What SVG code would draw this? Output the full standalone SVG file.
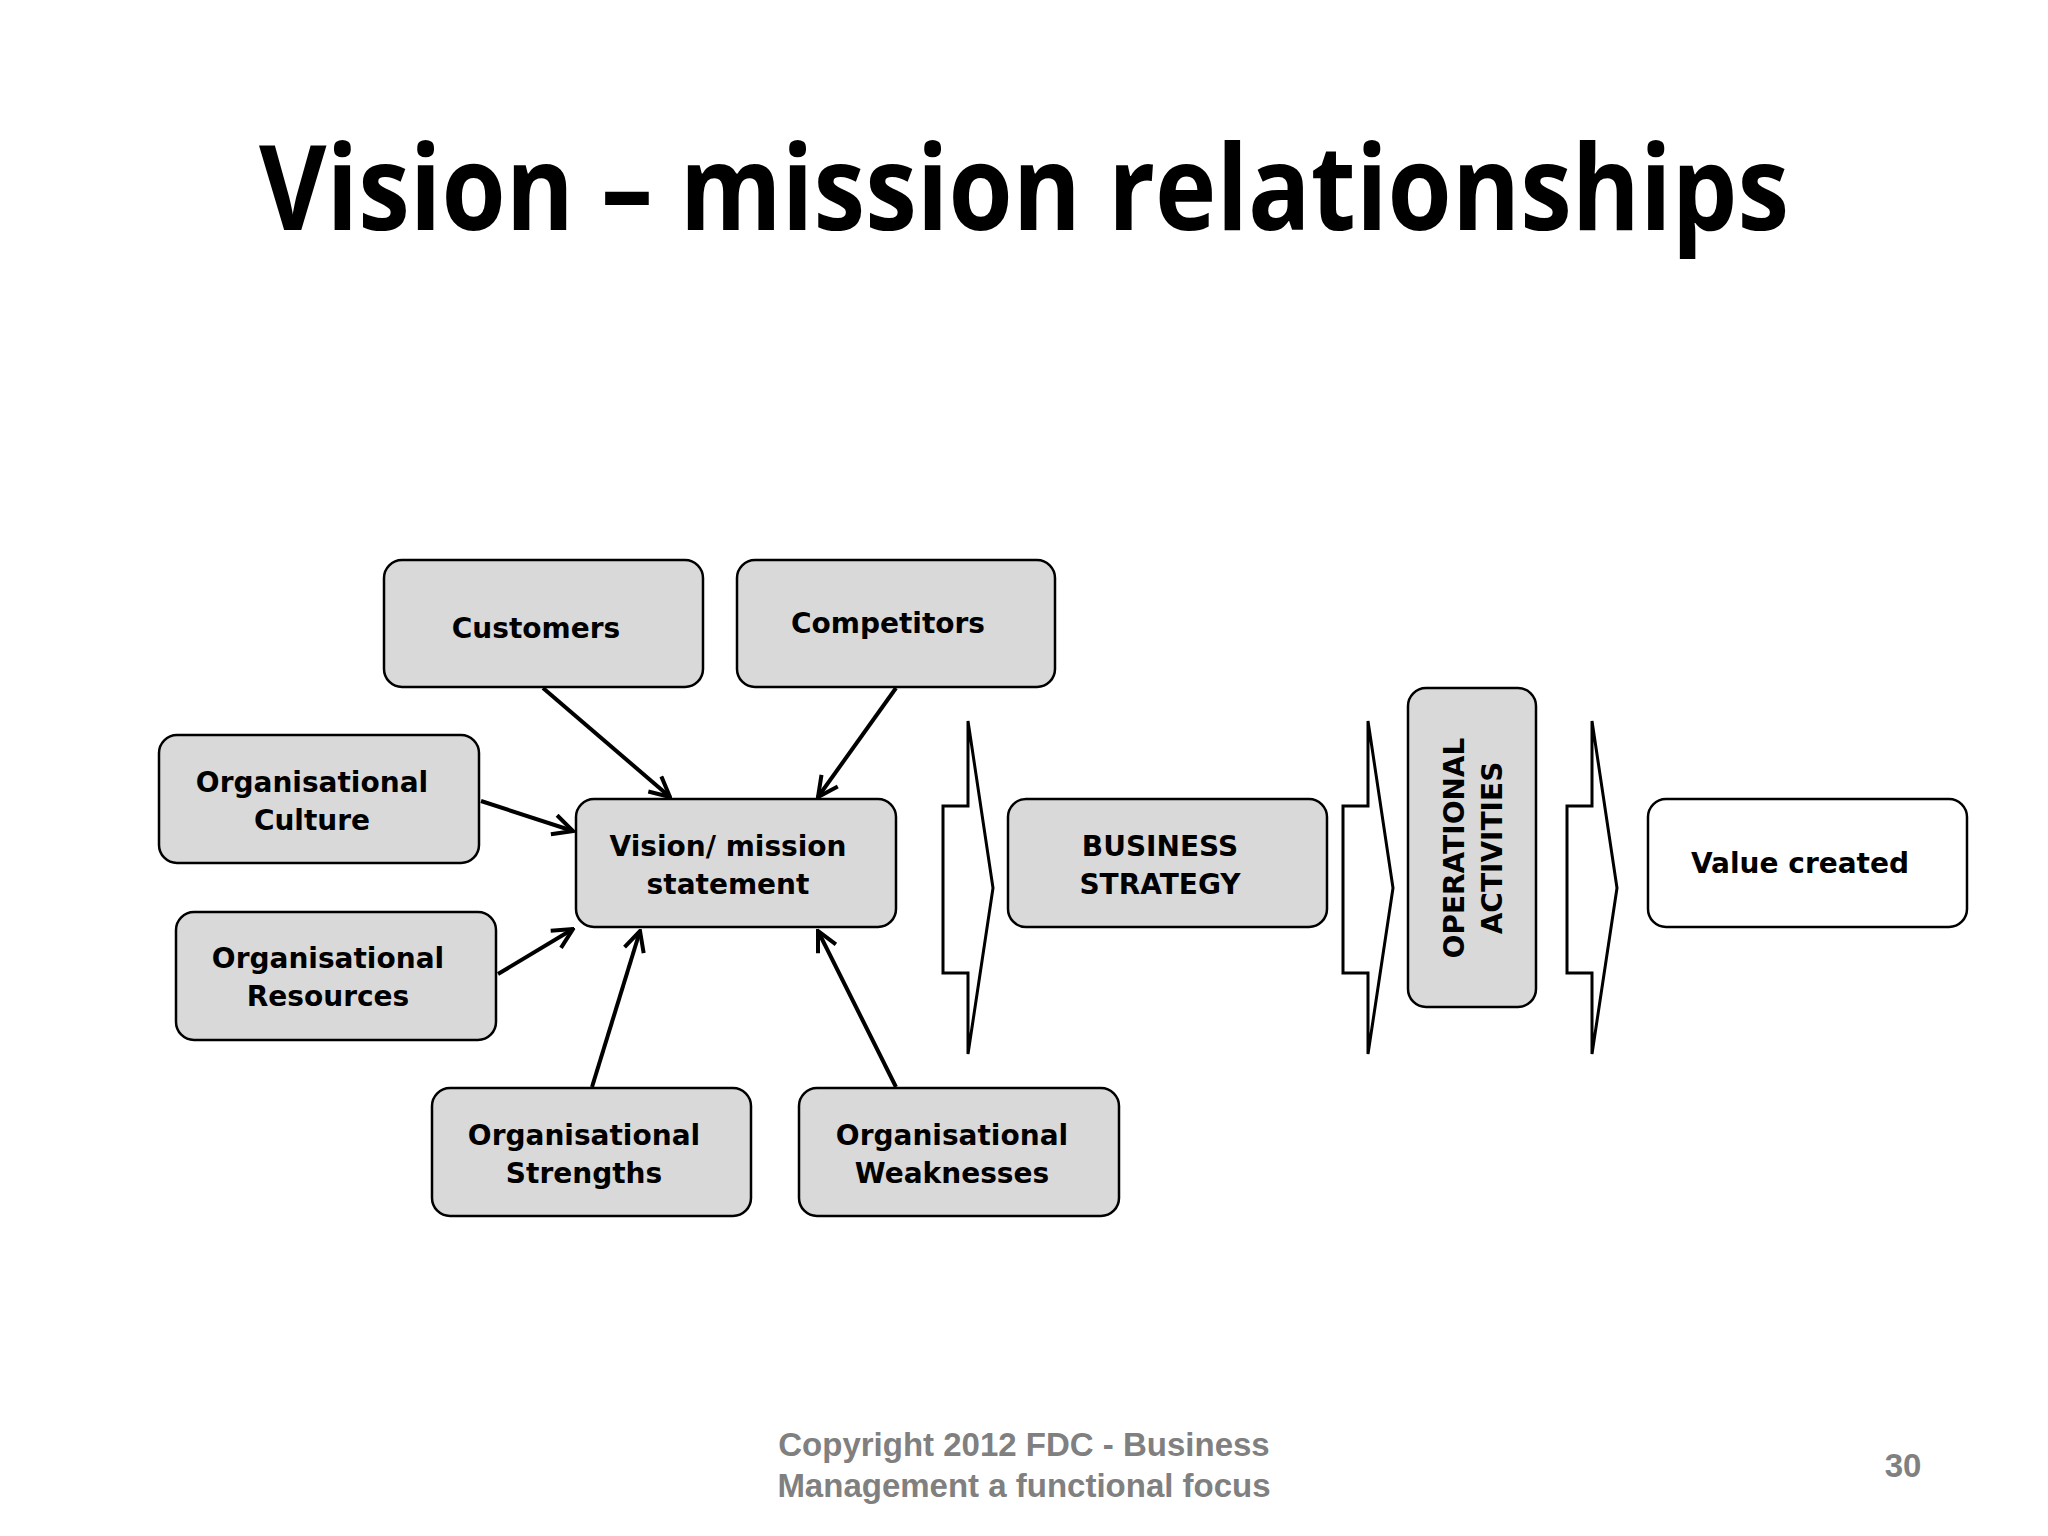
<svg xmlns="http://www.w3.org/2000/svg" width="2048" height="1536" viewBox="0 0 2048 1536">
<style>
.b{fill:#d9d9d9;stroke:#000;stroke-width:2.5}
.w{fill:#fff;stroke:#000;stroke-width:2.5}
.t{font-family:"DejaVu Sans",Verdana,sans-serif;font-weight:bold;font-size:28px;text-anchor:middle;fill:#000}
.c{fill:#fff;stroke:#000;stroke-width:3}
.f{font-family:"Liberation Sans",Arial,sans-serif;font-weight:bold;font-size:33px;fill:#808080;text-anchor:middle}
</style>
<defs><marker id="a" viewBox="0 0 12 12" refX="11" refY="6" markerWidth="6" markerHeight="6" orient="auto" markerUnits="strokeWidth"><path d="M1,1 L11,6 L1,11" fill="none" stroke="#000" stroke-width="2"/></marker></defs>
<rect width="2048" height="1536" fill="#fff"/>
<text x="1024" y="230" font-family="Open Sans,Liberation Sans,sans-serif" font-weight="bold" font-size="118" text-anchor="middle" textLength="1530" lengthAdjust="spacingAndGlyphs">Vision – mission relationships</text>
<g id="customers"><rect class="b" x="384" y="560" width="319" height="127" rx="18"/><text class="t" x="536" y="638">Customers</text></g>
<g id="competitors"><rect class="b" x="737" y="560" width="318" height="127" rx="18"/><text class="t" x="888" y="633">Competitors</text></g>
<g id="culture"><rect class="b" x="159" y="735" width="320" height="128" rx="18"/><text class="t" x="312" y="792">Organisational</text><text class="t" x="312" y="830">Culture</text></g>
<g id="vision"><rect class="b" x="576" y="799" width="320" height="128" rx="18"/><text class="t" x="728" y="856">Vision/ mission</text><text class="t" x="728" y="894">statement</text></g>
<g id="resources"><rect class="b" x="176" y="912" width="320" height="128" rx="18"/><text class="t" x="328" y="968">Organisational</text><text class="t" x="328" y="1006">Resources</text></g>
<g id="strengths"><rect class="b" x="432" y="1088" width="319" height="128" rx="18"/><text class="t" x="584" y="1145">Organisational</text><text class="t" x="584" y="1183">Strengths</text></g>
<g id="weaknesses"><rect class="b" x="799" y="1088" width="320" height="128" rx="18"/><text class="t" x="952" y="1145">Organisational</text><text class="t" x="952" y="1183">Weaknesses</text></g>
<g id="business"><rect class="b" x="1008" y="799" width="319" height="128" rx="18"/><text class="t" x="1160" y="856">BUSINESS</text><text class="t" x="1160" y="894">STRATEGY</text></g>
<g id="operational"><rect class="b" x="1408" y="688" width="128" height="319" rx="18"/><g transform="translate(1472,848) rotate(-90)"><text class="t" x="0" y="-8">OPERATIONAL</text><text class="t" x="0" y="30">ACTIVITIES</text></g></g>
<g id="value"><rect class="w" x="1648" y="799" width="319" height="128" rx="18"/><text class="t" x="1800" y="873">Value created</text></g>
<g id="chevrons">
<polygon class="c" points="943,806 968,806 968,721 993,888 968,1054 968,973 943,973"/>
<polygon class="c" points="1343,806 1368,806 1368,721 1393,888 1368,1054 1368,973 1343,973"/>
<polygon class="c" points="1567,806 1592,806 1592,721 1617,888 1592,1054 1592,973 1567,973"/>
</g>
<g id="connectors" stroke="#000" stroke-width="4" fill="none" marker-end="url(#a)">
<line x1="543" y1="688" x2="670" y2="797"/>
<line x1="896" y1="688" x2="818" y2="797"/>
<line x1="481" y1="801" x2="573" y2="831"/>
<line x1="498" y1="974" x2="573" y2="929"/>
<line x1="592" y1="1087" x2="640" y2="931"/>
<line x1="896" y1="1087" x2="818" y2="931"/>
</g>
<text class="f" x="1024" y="1456">Copyright 2012 FDC - Business</text>
<text class="f" x="1024" y="1497">Management a functional focus</text>
<text class="f" x="1903" y="1477">30</text>
</svg>
